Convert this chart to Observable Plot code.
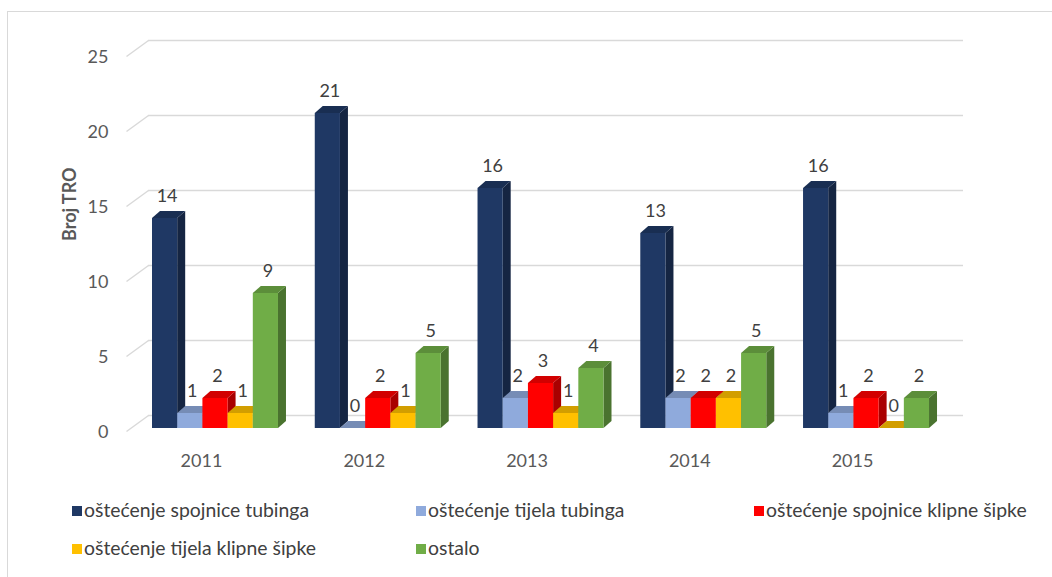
<!DOCTYPE html>
<html><head><meta charset="utf-8">
<script src="https://cdn.jsdelivr.net/npm/d3@7"></script>
<script src="https://cdn.jsdelivr.net/npm/@observablehq/plot@0.6"></script>
<style>
body{margin:0;background:#fff;font-family:Lato,"Open Sans",sans-serif;}
#wrap{position:relative;width:1052px;height:577px;overflow:hidden;background:#fff;}
#border{position:absolute;left:7px;top:11px;width:1200px;height:800px;border:1px solid #d9d9d9;box-sizing:border-box;}
#chart{position:absolute;left:0;top:0;}
.li{position:absolute;font-size:19.4px;color:#404040;white-space:nowrap;line-height:22px;height:22px;}
.li i{display:inline-block;width:10px;height:10px;margin-right:2px;vertical-align:1px;}
</style></head>
<body><div id="wrap"><div id="border"></div><div id="chart"></div><div id="legend"></div></div>
<script>
const years = ["2011", "2012", "2013", "2014", "2015"];
const series = ["oštećenje spojnice tubinga", "oštećenje tijela tubinga", "oštećenje spojnice klipne šipke", "oštećenje tijela klipne šipke", "ostalo"];
const colors = ["#1f3864", "#8faadc", "#ff0000", "#ffc000", "#70ad47"];
const spojniceTubinga = [14, 21, 16, 13, 16];
const tijelaTubinga = [1, 0, 2, 2, 1];
const spojniceSipke = [2, 2, 3, 2, 2];
const tijelaSipke = [1, 1, 1, 2, 0];
const ostalo = [9, 5, 4, 5, 2];
const yTicks = [0, 5, 10, 15, 20, 25];
const axisTitle = "Broj TRO";

const values = [spojniceTubinga, tijelaTubinga, spojniceSipke, tijelaSipke, ostalo];
const tables = series.map((s, j) => years.map((yr, i) => ({year: yr, series: s, value: values[j][i]})));

// diagonal "wall" tick drawn as a custom symbol
const diag = {draw(ctx) { ctx.moveTo(-11, 8); ctx.lineTo(11, -8); }};

const BW = 126 / 5; // width of one bar within a year group (px)
const barMarks = [], labelMarks = [];
tables.forEach((t, j) => {
  barMarks.push(Plot.barY(t, {x: "year", y: "value", fill: colors[j], insetLeft: j * BW, insetRight: (4 - j) * BW, ariaDescription: "bar-front"}));
  labelMarks.push(Plot.text(t, {x: "year", y: "value", text: d => String(d.value), lineAnchor: "bottom", dx: (j - 2) * BW + 2, dy: -17, fontSize: 18, fill: "#404040"}));
});

const chart = Plot.plot({
  width: 1052, height: 480,
  marginLeft: 128, marginRight: 109, marginTop: 53, marginBottom: 52,
  style: {fontFamily: "Lato, 'Open Sans', sans-serif", fontSize: "18px", color: "#595959", background: "transparent"},
  x: {domain: years, paddingInner: 0.226, paddingOuter: 0.1167, align: 0.632, round: false, label: null, axis: null},
  y: {domain: [0, 25], axis: null},
  marks: [
    Plot.ruleY(yTicks, {dx: 20, dy: -13, stroke: "#d9d9d9", strokeWidth: 1.5}),
    Plot.dot(yTicks, {y: d => d, frameAnchor: "left", dx: 9, dy: -5, symbol: diag, stroke: "#d9d9d9", strokeWidth: 1.5, fill: "none"}),
    Plot.text(yTicks, {y: d => d, text: d => String(d), frameAnchor: "left", textAnchor: "end", dx: -20, dy: 4, fontSize: 18, fill: "#595959"}),
    Plot.text([axisTitle], {text: d => d, frameAnchor: "left", rotate: -90, dx: -58, fontSize: 18, fontWeight: "bold", fill: "#595959"}),
    Plot.axisX({anchor: "bottom", tickSize: 0, tickPadding: 26, dx: -14, label: null, fontSize: 18, color: "#595959"}),
    ...barMarks,
    ...labelMarks
  ]
});
document.getElementById("chart").appendChild(chart);

// 3D extrusion: side and top faces derived from each rendered bar
const NS = "http://www.w3.org/2000/svg";
const DX = 8, DY = -7;
d3.select(chart).selectAll('g[aria-description="bar-front"]').each(function() {
  const g = d3.select(this);
  const gfill = g.attr("fill");
  g.selectAll("rect").each(function() {
    const r = d3.select(this);
    const x = +r.attr("x"), y = +r.attr("y"), w = +r.attr("width"), h = +(r.attr("height") || 0);
    const c = d3.color(r.attr("fill") || gfill);
    const side = document.createElementNS(NS, "polygon");
    side.setAttribute("points", [[x + w, y], [x + w + DX, y + DY], [x + w + DX, y + h + DY], [x + w, y + h]].join(" "));
    side.setAttribute("fill", c.darker(1.15).formatHex());
    const top = document.createElementNS(NS, "polygon");
    top.setAttribute("points", [[x, y], [x + DX, y + DY], [x + w + DX, y + DY], [x + w, y]].join(" "));
    top.setAttribute("fill", c.darker(0.55).formatHex());
    this.parentNode.insertBefore(side, this);
    this.parentNode.insertBefore(top, this);
  });
});

// legend
const pos = [[72, 499], [416, 499], [754, 499], [72, 537], [416, 537]];
const leg = document.getElementById("legend");
series.forEach((s, i) => {
  const d = document.createElement("div");
  d.className = "li";
  d.style.left = pos[i][0] + "px";
  d.style.top = pos[i][1] + "px";
  d.innerHTML = `<i style="background:${colors[i]}"></i>`;
  d.appendChild(document.createTextNode(s));
  leg.appendChild(d);
});
</script>
</body></html>
